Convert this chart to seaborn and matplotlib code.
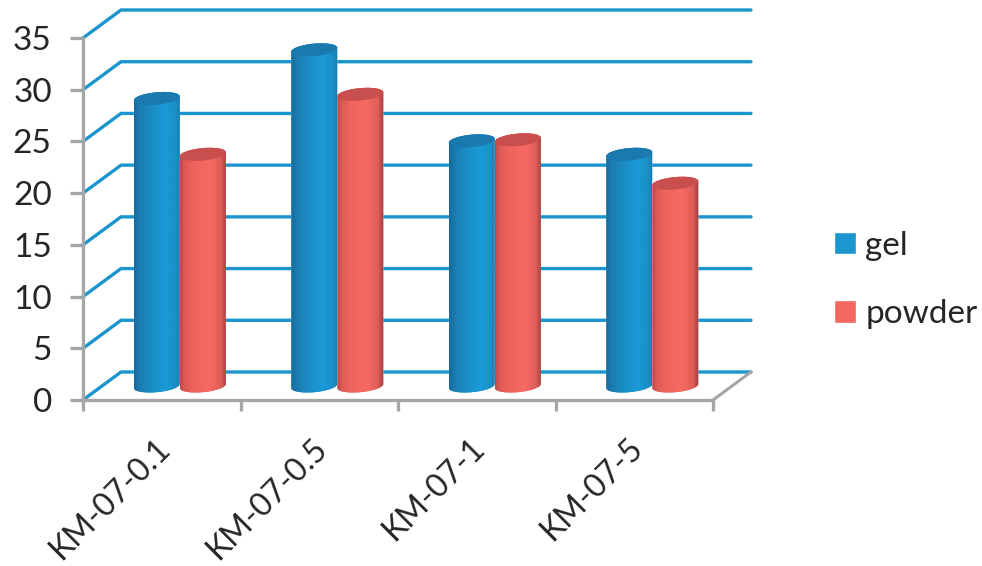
import numpy as np
import pandas as pd
import matplotlib
matplotlib.use("Agg")
import matplotlib.pyplot as plt
from matplotlib.colors import LinearSegmentedColormap
from matplotlib.patches import PathPatch, Polygon
from matplotlib.path import Path
from matplotlib.transforms import ScaledTranslation
import seaborn as sns

categories = ["KM-07-0.1", "KM-07-0.5", "KM-07-1", "KM-07-5"]
gel = [27.8, 32.5, 23.7, 22.4]
powder = [22.4, 28.2, 23.8, 19.6]
y_ticks = [0, 5, 10, 15, 20, 25, 30, 35]

W, H = 982, 566
AX_L, AX_R, AX_T, AX_B = 83, 713, 38, 400
PX_X = (AX_R - AX_L) / 4.0
PX_Y = (AX_B - AX_T) / 35.0

sns.set_theme(style="white")
plt.rcParams["font.family"] = ["Lato", "DejaVu Sans"]

df = pd.DataFrame({
    "category": categories * 2,
    "series": ["gel"] * 4 + ["powder"] * 4,
    "value": gel + powder,
})

fig = plt.figure(figsize=(W / 100, H / 100), dpi=100, facecolor="white")
ax = fig.add_axes([AX_L / W, 1 - AX_B / H, (AX_R - AX_L) / W, (AX_B - AX_T) / H])

BLUE, RED = "#1b96cf", "#f4675f"
GREY = "#a6a6a6"
INK = "#262626"

# depth of the floor, and the offset of the bars half way into it
depth_x, depth_y = 38 / PX_X, 28 / PX_Y
mid_x, mid_y = 18 / PX_X, 14 / PX_Y

sns.barplot(
    df, x="category", y="value", hue="series", order=categories,
    palette={"gel": BLUE, "powder": RED}, width=0.585, gap=0,
    errorbar=None, saturation=1, ax=ax, zorder=3,
)

ramps = {
    BLUE: LinearSegmentedColormap.from_list("gel_body", [
        (0, "#176a9c"), (0.12, "#1a7cb0"), (0.4, "#1b8fc6"),
        (0.68, "#1a9bd8"), (0.9, "#1a8fc4"), (1, "#197bad")]),
    RED: LinearSegmentedColormap.from_list("powder_body", [
        (0, "#b84a49"), (0.1, "#dc5a56"), (0.3, "#f0645e"),
        (0.65, "#f76a63"), (0.88, "#dd5d58"), (1, "#9c3c3c")]),
}
caps = {BLUE: "#1a79ae", RED: "#c94f4e"}
colours = [BLUE] * 4 + [RED] * 4
bars = list(ax.patches)[:8]
t = np.linspace(0, 2 * np.pi, 73)
for i, (bar, colour) in enumerate(zip(bars, colours)):
    cx = bar.get_x() + bar.get_width() / 2 + mid_x
    a = bar.get_width() / 2
    top = bar.get_height() + mid_y
    base = mid_y
    b = 6.2 / PX_Y
    tilt = 2.0 / PX_Y

    def rim(level, angles):
        return np.column_stack([
            cx + a * np.cos(angles),
            level + b * np.sin(angles) + tilt * np.cos(angles),
        ])

    lower = rim(base, np.linspace(np.pi, 2 * np.pi, 37))
    upper = rim(top, np.linspace(0, np.pi, 37))
    outline = np.vstack([lower, upper, lower[:1]])
    z = 3 + 0.1 * bar.get_x()
    body = PathPatch(Path(outline), transform=ax.transData, fc="none", ec="none")
    ax.add_patch(body)
    bar.set_zorder(z)
    bar.set_x(cx - a)
    bar.set_y(base - b - tilt)
    bar.set_height(top - base + 2 * (b + tilt))
    bar.set_clip_path(body)
    shade = np.linspace(0, 1, 128).reshape(1, -1)
    im = ax.imshow(
        shade, cmap=ramps[colour], aspect="auto", zorder=z + 0.01,
        extent=(cx - a, cx + a, base - b - tilt, top + b + tilt),
    )
    im.set_clip_path(body)
    ax.add_patch(Polygon(rim(top, t), closed=True, fc=caps[colour], ec="none", zorder=z + 0.02))

ax.set_xlim(-0.5, 3.5)
ax.set_ylim(0, 35)
ax.set_aspect("auto")

# back wall gridlines with their returns to the front axis
right_end = 3.5 + depth_x
for v in y_ticks:
    ax.plot([-0.5, -0.5 + depth_x, right_end], [v, v + depth_y, v + depth_y],
            color="#1b95cd", lw=2.4, clip_on=False, zorder=1, solid_joinstyle="miter")
ax.plot([3.5, 3.5 + depth_x], [0, depth_y], color=GREY, lw=2.2, clip_on=False, zorder=1.5)

sns.despine(ax=ax, top=True, right=True)
for side in ("left", "bottom"):
    ax.spines[side].set_color(GREY)
    ax.spines[side].set_linewidth(2.4)

ax.set_xlabel("")
ax.set_ylabel("")
ax.set_yticks(y_ticks)
ax.set_xticks(np.arange(-0.5, 4), labels=[""] * 5)
ax.set_xticks(np.arange(4), labels=categories, minor=True)
ax.tick_params(axis="y", length=9.5, width=2.4, color=GREY, labelsize=24,
               labelcolor=INK, pad=13, left=True)
ax.tick_params(axis="x", which="major", length=8, width=2.4, color=GREY, bottom=True)
ax.tick_params(axis="x", which="minor", length=0, pad=24, labelsize=23, labelcolor=INK)

# slanted category labels, nudged left of their slot centres
nudge = ScaledTranslation(-7 / 100, 0, fig.dpi_scale_trans)
for label in ax.get_xticklabels(minor=True):
    label.set_rotation(45)
    label.set_ha("right")
    label.set_va("top")
    label.set_rotation_mode("anchor")
    label.set_transform(label.get_transform() + nudge)

handles, labels = ax.get_legend_handles_labels()
ax.legend(
    handles[:2], labels[:2], loc="center left",
    bbox_to_anchor=((834 - AX_L) / (AX_R - AX_L), 1 - (280 - AX_T) / (AX_B - AX_T)),
    frameon=False, fontsize=24, handlelength=0.66, handleheight=0.66,
    handletextpad=0.28, labelspacing=1.15, labelcolor=INK, borderpad=0, borderaxespad=0,
)

fig.savefig("out.png", dpi=100, facecolor="white")
